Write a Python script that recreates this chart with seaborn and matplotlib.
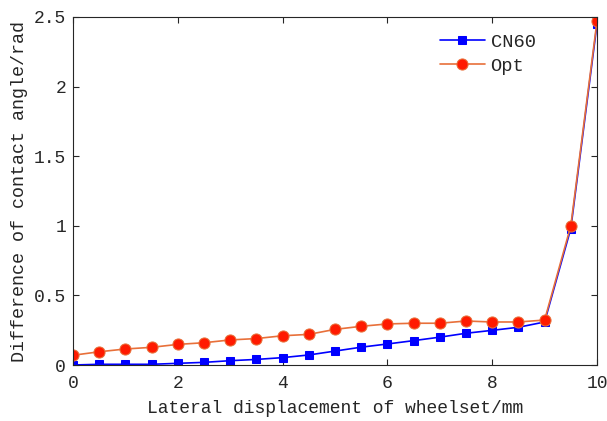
import numpy as np
import pandas as pd
import matplotlib
matplotlib.use("Agg")
import matplotlib.pyplot as plt
import seaborn as sns

x = [0, 0.5, 1, 1.5, 2, 2.5, 3, 3.5, 4, 4.5, 5, 5.5, 6, 6.5, 7, 7.5, 8, 8.5, 9, 9.5, 10]
cn60 = [0.0, 0.005, 0.005, 0.005, 0.012, 0.019, 0.031, 0.04, 0.053, 0.072, 0.10, 0.128,
        0.151, 0.175, 0.20, 0.228, 0.249, 0.271, 0.309, 0.98, 2.45]
opt = [0.07, 0.095, 0.115, 0.127, 0.148, 0.16, 0.18, 0.19, 0.21, 0.22, 0.256, 0.278,
       0.295, 0.30, 0.30, 0.316, 0.309, 0.309, 0.323, 1.0, 2.47]
xticks = [0, 2, 4, 6, 8, 10]
yticks = [0, 0.5, 1, 1.5, 2, 2.5]
ytick_labels = ["0", "0.5", "1", "1.5", "2", "2.5"]

sns.set_style("ticks")
plt.rcParams['font.family'] = ['Liberation Mono', 'DejaVu Sans']
plt.rcParams['xtick.direction'] = 'in'
plt.rcParams['ytick.direction'] = 'in'

fig = plt.figure(figsize=(6.07, 4.21), dpi=100)
ax = fig.add_axes([73/607, 1-365/421, (597-73)/607, (365-17)/421])

df = pd.DataFrame({"x": x * 2, "y": cn60 + opt,
                   "series": ["CN60"] * len(x) + ["Opt"] * len(x)})

sns.lineplot(data=df[df.series == "CN60"], x="x", y="y", ax=ax, color="#0000FF",
             marker="s", markersize=6, markeredgecolor="#0000FF", markerfacecolor="#0000FF",
             linewidth=1.2, label="CN60")
sns.lineplot(data=df[df.series == "Opt"], x="x", y="y", ax=ax, color="#E8703A",
             marker="o", markersize=8, markeredgecolor="#E8703A", markerfacecolor="#FF1A00",
             linewidth=1.2, label="Opt")

ax.set_xlim(0, 10)
ax.set_ylim(0, 2.5)
ax.set_xticks(xticks)
ax.set_yticks(yticks)
ax.set_yticklabels(ytick_labels)
ax.tick_params(axis='both', labelsize=13, colors='#262626', length=4, width=0.8,
               top=True, right=True)
ax.tick_params(axis='x', pad=7)
ax.tick_params(axis='y', pad=5)
for s in ax.spines.values():
    s.set_color('#262626')
    s.set_linewidth(0.8)
    s.set_visible(True)
ax.set_xlabel("Lateral displacement of wheelset/mm", fontsize=13, color='#262626',
              labelpad=6)
ax.set_ylabel("Difference of contact angle/rad", fontsize=13.2, color='#262626',
              labelpad=4)
leg = ax.legend(loc='upper right', bbox_to_anchor=(0.915, 1.0), frameon=False,
                fontsize=13.5, handlelength=2.4, handletextpad=0.3, labelspacing=0.35)

fig.savefig("out.png", dpi=100)
